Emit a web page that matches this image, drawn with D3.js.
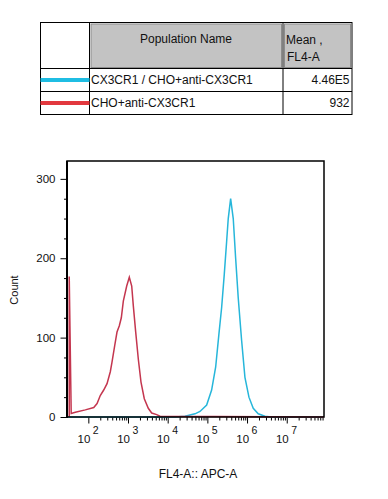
<!DOCTYPE html>
<html>
<head>
<meta charset="utf-8">
<script src="https://cdn.jsdelivr.net/npm/d3@7"></script>
<style>
  body { margin: 0; background: #fff; }
  text { font-family: "Liberation Sans", Arial, sans-serif; fill: #111; }
</style>
</head>
<body>
<div id="grafica"></div>
<script>
// Tabla de poblaciones
const populations = ["CX3CR1 / CHO+anti-CX3CR1", "CHO+anti-CX3CR1"]
const meanValues = ["4.46E5", "932"]
const legendColors = ["#1fbde3", "#e2383e"]
const curveColors = ["#26b6da", "#c4364f"]

// Histograma CX3CR1 (cyan) : intensidad FL4-A vs count
const cyanX = [29, 15300, 27300, 48750, 65200, 96000, 128000, 162000, 196000, 229000, 267000, 306000, 336000, 386000, 449000, 516000, 600000, 731000, 885000, 1117000, 1433000, 1914000, 2824000, 4000000, 87000000]
const cyanY = [0, 0, 1, 4, 7, 15, 34, 63, 105, 138, 180, 221, 250, 275, 250, 200, 150, 96, 50, 25, 11, 4, 1, 0, 0]

// Histograma CHO (rojo)
const redX = [33, 33, 37, 47, 84, 137, 166, 200, 244, 296, 358, 395, 462, 528, 604, 678, 762, 927, 1079, 1240, 1361, 1563, 1817, 2125, 2574, 3246, 3953, 5280, 6400, 87000000]
const redY = [0, 177, 4.5, 6, 9, 12, 17, 27, 34, 42, 57, 69, 90, 107, 115, 125, 146, 165, 176, 165, 140, 107, 73, 44, 23, 11, 5, 3, 1, 0]

// Ejes
const yTicks = [0, 100, 200, 300]
const xDecades = [1e2, 1e3, 1e4, 1e5, 1e6, 1e7]
const xExponents = ["2", "3", "4", "5", "6", "7"]

let width = 388
let height = 499

const svg = d3.select('#grafica')
  .append("svg")
  .attr("width", width)
  .attr("height", height)

// ---- tabla ----
const table = svg.append("g")
let tLeft = 40.5, tRight = 352, tTop = 22.5, tBottom = 114.5
let col1 = 89.5, col2 = 283
let rowY = [68.5, 91.5, 114.5]

table.append("rect")
  .attr("x", 91).attr("y", 24)
  .attr("width", 190.5).attr("height", 43.5)
  .attr("fill", "#c3c3c3").attr("stroke", "#8c8c8c")
table.append("rect")
  .attr("x", 284.5).attr("y", 24)
  .attr("width", 66).attr("height", 43.5)
  .attr("fill", "#c3c3c3").attr("stroke", "#8c8c8c")

table.append("rect")
  .attr("x", tLeft).attr("y", tTop)
  .attr("width", tRight - tLeft).attr("height", tBottom - tTop)
  .attr("fill", "none").attr("stroke", "#000")
table.append("line").attr("x1", col1).attr("x2", col1).attr("y1", tTop).attr("y2", tBottom).attr("stroke", "#000")
table.append("line").attr("x1", col2).attr("x2", col2).attr("y1", tTop).attr("y2", tBottom).attr("stroke", "#000")
table.append("line").attr("x1", tLeft).attr("x2", tRight).attr("y1", rowY[0]).attr("y2", rowY[0]).attr("stroke", "#000")
table.append("line").attr("x1", tLeft).attr("x2", tRight).attr("y1", rowY[1]).attr("y2", rowY[1]).attr("stroke", "#000")

table.append("text")
  .attr("x", 186).attr("y", 42.5)
  .attr("text-anchor", "middle")
  .style("font-size", "12px")
  .text("Population Name")
table.append("text")
  .attr("x", 286).attr("y", 43.5)
  .style("font-size", "12px")
  .text("Mean ,")
table.append("text")
  .attr("x", 287).attr("y", 61)
  .style("font-size", "12px")
  .text("FL4-A")

populations.forEach((p, i) => {
  let yMid = (rowY[i] + rowY[i + 1]) / 2
  table.append("line")
    .attr("x1", tLeft).attr("x2", col1)
    .attr("y1", yMid).attr("y2", yMid)
    .attr("stroke", legendColors[i])
    .attr("stroke-width", 4)
  table.append("text")
    .attr("x", 91).attr("y", yMid + 4)
    .style("font-size", "12px")
    .text(p)
  table.append("text")
    .attr("x", 349.5).attr("y", yMid + 4)
    .attr("text-anchor", "end")
    .style("font-size", "12px")
    .text(meanValues[i])
})

// ---- histograma ----
let pLeft = 67, pRight = 324, pTop = 161, pBottom = 417

const xScale = d3.scaleLog()
  .domain([29, 87000000])
  .range([pLeft, pRight])

const yScale = d3.scaleLinear()
  .domain([0, 322.5])
  .range([pBottom, pTop])

// ticks menores del eje x (2..9 por decada)
let xMinor = []
for (let d = 100; d < 1e8; d *= 10) {
  for (let k = 2; k <= 9; k++) {
    if (d * k < 87000000) xMinor.push(d * k)
  }
}
let yMinor = d3.range(0, 325, 25).filter(v => v % 100 != 0)

svg.append("g")
  .attr("transform", "translate(0," + pBottom + ")")
  .call(d3.axisBottom(xScale).tickValues(xMinor).tickSize(3.5).tickSizeOuter(0).tickFormat(""))
svg.append("g")
  .attr("transform", "translate(0," + pBottom + ")")
  .call(d3.axisBottom(xScale).tickValues(xDecades).tickSize(6.5).tickSizeOuter(0).tickFormat(""))

svg.append("g")
  .attr("transform", "translate(" + pLeft + ",0)")
  .call(d3.axisLeft(yScale).tickValues(yMinor).tickSize(3).tickSizeOuter(0).tickFormat(""))
svg.append("g")
  .attr("class", "yaxis")
  .attr("transform", "translate(" + pLeft + ",0)")
  .call(d3.axisLeft(yScale).tickValues(yTicks).tickSize(6.5).tickPadding(5).tickSizeOuter(0))

svg.selectAll(".domain").remove()
svg.selectAll(".tick line").attr("stroke", "#000")
svg.selectAll(".yaxis text")
  .style("font-size", "11.5px")
  .style("font-family", "Liberation Sans, Arial, sans-serif")
  .attr("fill", "#111")

// etiquetas 10^n
xDecades.forEach((d, i) => {
  svg.append("text")
    .attr("x", xScale(d) + 2).attr("y", 443)
    .attr("text-anchor", "end")
    .style("font-size", "11.5px")
    .text("10")
  svg.append("text")
    .attr("x", xScale(d) + 4.5).attr("y", 434)
    .style("font-size", "10.5px")
    .text(xExponents[i])
})

const line = d3.line()
  .x(d => xScale(d[0]))
  .y(d => yScale(d[1]))

svg.append("path")
  .datum(cyanX.map((v, i) => [v, cyanY[i]]))
  .attr("d", line)
  .attr("fill", "none")
  .attr("stroke", curveColors[0])
  .attr("stroke-width", 1.5)

svg.append("path")
  .datum(redX.map((v, i) => [v, redY[i]]))
  .attr("d", line)
  .attr("fill", "none")
  .attr("stroke", curveColors[1])
  .attr("stroke-width", 1.5)

// marco
svg.append("rect")
  .attr("x", pLeft).attr("y", pTop)
  .attr("width", pRight - pLeft).attr("height", pBottom - pTop)
  .attr("fill", "none")
  .attr("stroke", "#000")
  .attr("stroke-width", 1.5)
svg.append("line")
  .attr("x1", pLeft).attr("x2", pLeft).attr("y1", pTop).attr("y2", pBottom + 1)
  .attr("stroke", "#000").attr("stroke-width", 2)

svg.append("text")
  .attr("text-anchor", "middle")
  .attr("transform", "translate(18,290) rotate(-90)")
  .style("font-size", "11px")
  .text("Count")

svg.append("text")
  .attr("text-anchor", "middle")
  .attr("x", 198)
  .attr("y", 478)
  .style("font-size", "12px")
  .text("FL4-A:: APC-A")
</script>
</body>
</html>
